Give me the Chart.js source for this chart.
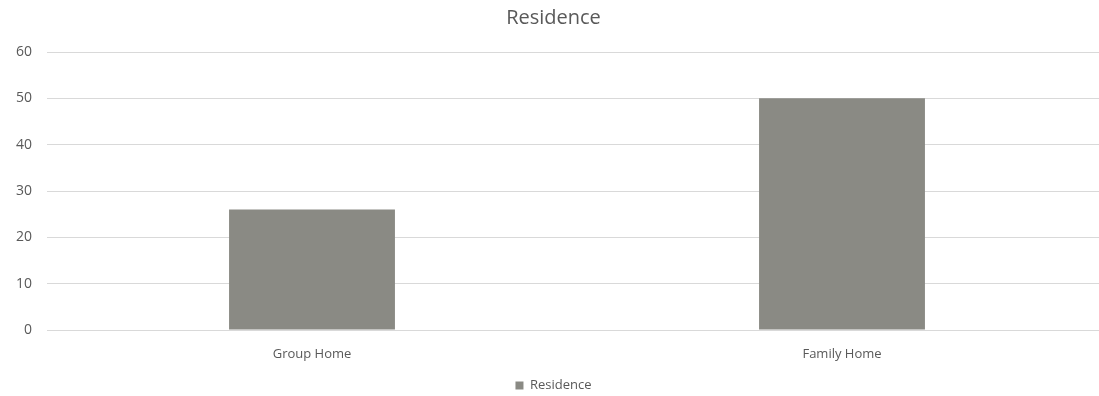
<!DOCTYPE html>
<html>
<head>
<meta charset="utf-8">
<script src="https://cdn.jsdelivr.net/npm/chart.js@4"></script>
<style>
  html, body { margin: 0; padding: 0; background: #fff; overflow: hidden; }
  #wrap { width: 1099px; height: 396px; overflow: hidden; }
</style>
</head>
<body>
<div id="wrap"><canvas id="barChart" width="1126" height="402"></canvas></div>
<script>
const categories = ["Group Home", "Family Home"];
const residence = [26, 50];
const yTicks = [0, 10, 20, 30, 40, 50, 60];

const ctx = document.getElementById("barChart").getContext("2d");
new Chart(ctx, {
    type: "bar",
    data: {
        labels: categories,
        datasets: [
            { label: "Residence", data: residence, backgroundColor: "#8a8a84", borderWidth: 0,
              categoryPercentage: 1, barPercentage: 0.313 }
        ]
    },
    options: {
        responsive: false,
        animation: false,
        layout: { padding: { left: 0, right: 19, top: 0, bottom: 0 } },
        plugins: {
            title: {
                display: true, text: "Residence", color: "#595959",
                font: { family: "Open Sans", size: 20, weight: "normal" },
                padding: { top: 6, bottom: 22 }
            },
            legend: {
                position: "bottom",
                labels: {
                    color: "#595959", boxWidth: 8, boxHeight: 8, padding: 6,
                    font: { family: "Open Sans", size: 13 }
                }
            },
            tooltip: { enabled: false }
        },
        scales: {
            x: {
                afterFit: s => { s.height = 43; },
                grid: { display: false, drawTicks: false },
                border: { display: false },
                ticks: { color: "#595959", padding: 16, font: { family: "Open Sans", size: 13 } }
            },
            y: {
                min: 0, max: 60,
                afterBuildTicks: s => { s.ticks = yTicks.map(v => ({ value: v })); },
                afterFit: s => { s.width = 47; },
                grid: { color: "#d9d9d9", lineWidth: 1, drawTicks: false },
                border: { display: false },
                ticks: { color: "#595959", padding: 15, font: { family: "Open Sans", size: 14 } }
            }
        }
    }
});
</script>
</body>
</html>
